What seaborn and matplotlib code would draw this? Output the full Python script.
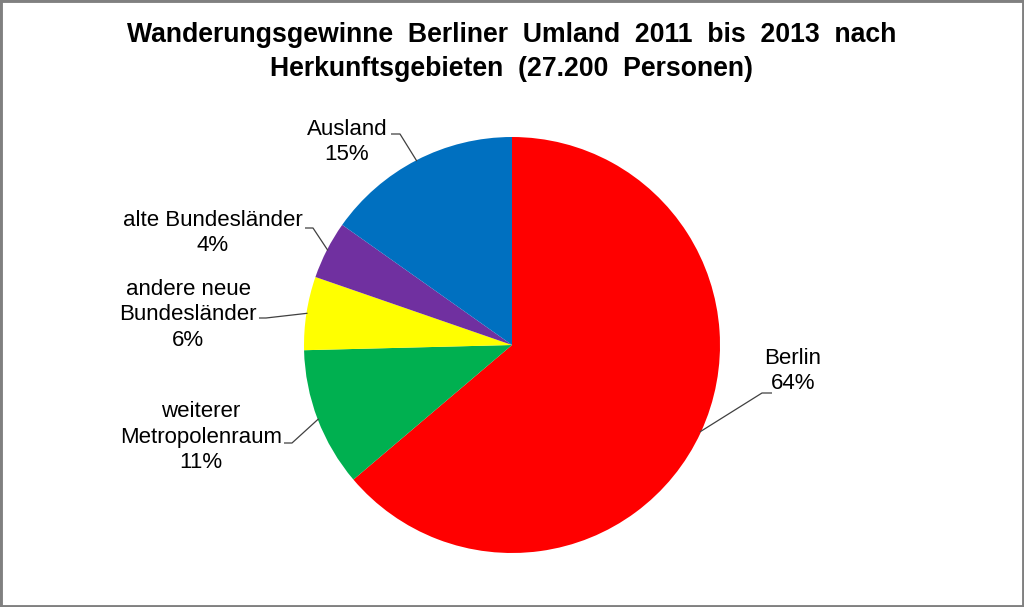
import matplotlib
matplotlib.use("Agg")
import matplotlib.pyplot as plt
import seaborn as sns
import numpy as np
from matplotlib.patches import Rectangle

categories = ["Berlin", "weiterer\nMetropolenraum", "andere neue\nBundesländer",
              "alte Bundesländer", "Ausland"]
shares = [63.8, 10.8, 5.7, 4.5, 15.2]          # slice sizes
pct_labels = ["64%", "11%", "6%", "4%", "15%"]  # printed labels
colors = ["#FF0000", "#00B050", "#FFFF00", "#7030A0", "#0070C0"]
title = "Wanderungsgewinne  Berliner  Umland  2011  bis  2013  nach\nHerkunftsgebieten  (27.200  Personen)"

sns.set_theme(style="white")
plt.rcParams['font.family'] = ['Liberation Sans', 'DejaVu Sans']

W, H = 1024, 607
fig = plt.figure(figsize=(W / 100, H / 100), dpi=100)
fig.patch.set_facecolor("white")

cx, cy, R = 512, 345, 208
ax = fig.add_axes([(cx - R) / W, (H - cy - R) / H, 2 * R / W, 2 * R / H])

wedges, _ = ax.pie(shares, colors=colors, startangle=90, counterclock=False,
                   radius=1.0, center=(0, 0), frame=True,
                   wedgeprops=dict(linewidth=0))
ax.set_xlim(-1, 1)
ax.set_ylim(-1, 1)
ax.set_aspect("equal")
ax.axis("off")

def d(px, py):
    return ((px - cx) / R, (cy - py) / R)

# label layout: block centre, stub start, stub end (elbow)
layout = [
    ((793, 371), (772, 393), (762, 393)),   # Berlin
    ((201, 437), (284, 443), (292, 443)),   # weiterer
    ((188, 315), (259, 318), (266, 318)),   # andere neue
    ((213, 233), (305, 228), (313, 228)),   # alte
    ((347, 142), (391, 134), (400, 134)),   # Ausland
]

for w, cat, lab, (tc, s0, s1) in zip(wedges, categories, pct_labels, layout):
    mid = np.deg2rad((w.theta1 + w.theta2) / 2)
    rim = (np.cos(mid) * 0.995, np.sin(mid) * 0.995)
    tx, ty = d(*tc)
    ax.text(tx, ty, f"{cat}\n{lab}", ha="center", va="center", fontsize=16,
            color="#000000", linespacing=1.3, multialignment="center")
    a = d(*s0)
    b = d(*s1)
    ax.plot([a[0], b[0], rim[0]], [a[1], b[1], rim[1]], color="#404040",
            linewidth=0.9, clip_on=False, solid_capstyle="butt")

fig.text(0.5, 1 - 52 / H, title, ha="center", va="center", fontsize=19.2,
         fontweight="bold", linespacing=1.38, color="#000000")

fig.patches.append(Rectangle((0, 0), 1, 1, transform=fig.transFigure,
                             fill=False, edgecolor="#808080", linewidth=3.5))

fig.savefig("out.png", dpi=100, facecolor="white")
